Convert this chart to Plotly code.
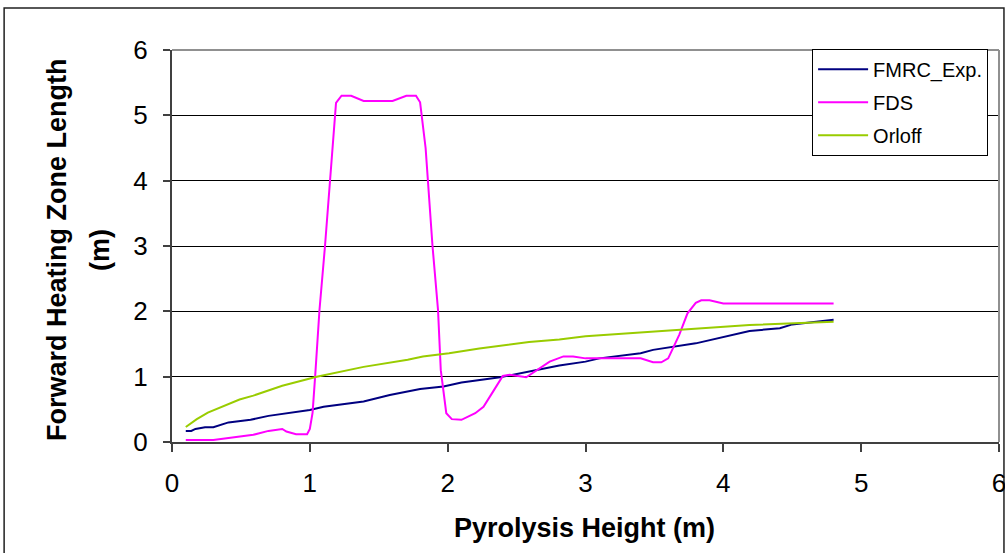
import plotly.graph_objects as go

# ---- data ----
fmrc_x = [0.1, 0.14, 0.17, 0.24, 0.3, 0.41, 0.57, 0.7, 1.0, 1.1, 1.39, 1.58, 1.8, 1.97, 2.1, 2.38,
          2.81, 3.0, 3.1, 3.4, 3.49, 3.8, 4.19, 4.41, 4.5, 4.8]
fmrc_y = [0.17, 0.17, 0.2, 0.225, 0.225, 0.3, 0.34, 0.4, 0.49, 0.54, 0.62, 0.72, 0.81, 0.85, 0.91, 0.99,
          1.17, 1.23, 1.28, 1.36, 1.41, 1.51, 1.70, 1.74, 1.80, 1.87]

fds_x = [0.1, 0.3, 0.59, 0.7, 0.8, 0.83, 0.9, 0.98, 1.0, 1.02, 1.04, 1.07, 1.11, 1.16, 1.19, 1.23,
         1.3, 1.39, 1.6, 1.7, 1.77, 1.8, 1.84, 1.89, 1.93, 1.95, 1.99, 2.03, 2.1, 2.2, 2.26, 2.32,
         2.4, 2.45, 2.57, 2.74, 2.84, 2.91, 3.0, 3.4, 3.49, 3.55, 3.6, 3.68, 3.74, 3.8, 3.84, 3.9,
         4.0, 4.8]
fds_y = [0.03, 0.03, 0.11, 0.17, 0.2, 0.16, 0.12, 0.12, 0.2, 0.45, 1.05, 2.02, 3.0, 4.3, 5.19, 5.3,
         5.3, 5.22, 5.22, 5.3, 5.3, 5.2, 4.5, 3.0, 2.02, 1.1, 0.44, 0.35, 0.34, 0.44, 0.54, 0.74,
         1.01, 1.03, 0.99, 1.23, 1.31, 1.31, 1.28, 1.28, 1.22, 1.22, 1.28, 1.64, 1.97, 2.13, 2.17, 2.17,
         2.12, 2.12]

orloff_x = [0.1, 0.18, 0.26, 0.49, 0.59, 0.8, 1.05, 1.39, 1.71, 1.82, 2.01, 2.23, 2.59, 2.81, 3.0,
            3.7, 4.19, 4.8]
orloff_y = [0.23, 0.35, 0.45, 0.65, 0.71, 0.86, 1.0, 1.15, 1.26, 1.31, 1.36, 1.43, 1.53, 1.57, 1.62,
            1.72, 1.79, 1.84]

series_names = ["FMRC_Exp.", "FDS", "Orloff"]
x_ticks = [0, 1, 2, 3, 4, 5, 6]
y_ticks = [0, 1, 2, 3, 4, 5, 6]

FONT = "Liberation Sans, Arial, sans-serif"

fig = go.Figure()
fig.add_trace(go.Scatter(x=fmrc_x, y=fmrc_y, mode="lines", name=series_names[0], legendgroup="a",
                         line=dict(color="#000080", width=2)))
fig.add_trace(go.Scatter(x=fds_x, y=fds_y, mode="lines", name=series_names[1], legendgroup="b",
                         line=dict(color="#FF00FF", width=2)))
fig.add_trace(go.Scatter(x=orloff_x, y=orloff_y, mode="lines", name=series_names[2], legendgroup="c",
                         line=dict(color="#99CC00", width=2)))

fig.update_layout(
    width=1005, height=553,
    margin=dict(l=172, r=6, t=50, b=111, autoexpand=False),
    paper_bgcolor="white", plot_bgcolor="white",
    font=dict(family=FONT, color="black"),
    showlegend=True,
    legend=dict(x=0.774, y=1.003, xanchor="left", yanchor="top",
                bordercolor="black", borderwidth=1, bgcolor="white",
                font=dict(size=20, family=FONT), tracegroupgap=4, itemwidth=50),
    xaxis=dict(range=[0, 6], tickvals=x_ticks, ticktext=[str(v) for v in x_ticks],
               showgrid=False, zeroline=False, showline=True, linecolor="#404040", linewidth=2,
               ticks="outside", ticklen=8, tickwidth=1.5, tickcolor="#404040",
               tickfont=dict(size=26, family=FONT), ticklabelstandoff=9,
               ticklabeloverflow="allow", automargin=False),
    yaxis=dict(range=[0, 6], tickvals=y_ticks, ticktext=[str(v) for v in y_ticks],
               showgrid=True, gridcolor="black", gridwidth=1, zeroline=False,
               showline=True, linecolor="#404040", linewidth=2,
               ticks="outside", ticklen=7, tickwidth=1.5, tickcolor="#404040",
               tickfont=dict(size=26, family=FONT), ticklabelstandoff=10, automargin=False),
    shapes=[
        # plot-area border (grey) top and right
        dict(type="line", xref="paper", yref="paper", x0=0, x1=1, y0=1, y1=1,
             line=dict(color="#909090", width=2)),
        dict(type="line", xref="paper", yref="paper", x0=1, x1=1, y0=0, y1=1,
             line=dict(color="#909090", width=2)),
        # outer chart frame
        dict(type="rect", xref="paper", yref="paper", x0=-0.203, x1=1.006, y0=-0.35, y1=1.107,
             line=dict(color="#202020", width=1.5), fillcolor="rgba(0,0,0,0)", layer="below"),
    ],
    annotations=[
        dict(text="<b>Forward Heating Zone Length</b>", xref="paper", yref="paper",
             x=-0.139, y=0.49, textangle=-90, showarrow=False, xanchor="center", yanchor="middle",
             font=dict(size=27, family=FONT)),
        dict(text="<b>(m)</b>", xref="paper", yref="paper",
             x=-0.087, y=0.49, textangle=-90, showarrow=False, xanchor="center", yanchor="middle",
             font=dict(size=27, family=FONT)),
        dict(text="<b>Pyrolysis Height (m)</b>", xref="paper", yref="paper",
             x=0.499, y=-0.22, showarrow=False, xanchor="center", yanchor="middle",
             font=dict(size=27, family=FONT)),
    ],
)

fig.write_html("out.html")
